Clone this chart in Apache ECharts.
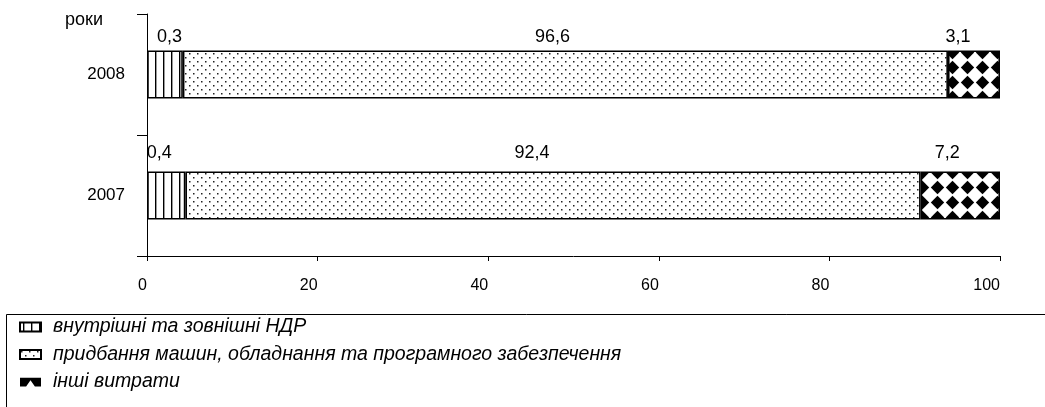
<!DOCTYPE html>
<html>
<head>
<meta charset="utf-8">
<script src="https://cdn.jsdelivr.net/npm/echarts@6/dist/echarts.min.js"></script>
<style>
html,body{margin:0;padding:0;background:#fff;}
#chart{width:1045px;height:407px;}
</style>
</head>
<body>
<div id="chart"></div>
<script>
// ---- data ----
const categories = ['2007', '2008'];
const seriesNames = [
  'внутрішні та зовнішні НДР',
  'придбання машин, обладнання та програмного забезпечення',
  'інші витрати'
];
// bar lengths as drawn in the picture (share, %)
const rdValues = [4.5, 4.2];
const machineryValues = [86.2, 89.7];
const otherValues = [9.3, 6.1];
// value labels printed above each segment
const rdLabels = ['0,4', '0,3'];
const machineryLabels = ['92,4', '96,6'];
const otherLabels = ['7,2', '3,1'];
const xTicks = [0, 20, 40, 60, 80, 100];
const yAxisName = 'роки';

// ---- patterns ----
function makeCanvas(w, h, draw) {
  const c = document.createElement('canvas');
  c.width = w; c.height = h;
  const ctx = c.getContext('2d');
  ctx.fillStyle = '#fff';
  ctx.fillRect(0, 0, w, h);
  draw(ctx);
  return c;
}
const vLines = makeCanvas(8, 4, ctx => {
  ctx.fillStyle = '#000';
  ctx.fillRect(3, 0, 1.4, 4);
});
const dots = makeCanvas(8, 8, ctx => {
  ctx.fillStyle = '#222';
  ctx.fillRect(1, 1, 1.5, 1.5);
  ctx.fillRect(5, 5, 1.5, 1.5);
});
const diamonds = makeCanvas(15, 15, ctx => {
  ctx.fillStyle = '#000';
  ctx.beginPath();
  ctx.moveTo(7.5, 0.8);
  ctx.lineTo(14.2, 7.5);
  ctx.lineTo(7.5, 14.2);
  ctx.lineTo(0.8, 7.5);
  ctx.closePath();
  ctx.fill();
});

const FONT = "'Liberation Sans', Arial, sans-serif";
const chart = echarts.init(document.getElementById('chart'), null, {renderer: 'canvas'});

// label nudges (style only): [x, y] per category index (0 = 2007, 1 = 2008)
function withLabelShift(values, shifts) {
  return values.map((v, i) => ({value: v, label: {offset: shifts[i]}}));
}
function labelCfg(texts) {
  return {
    show: true,
    position: 'top',
    distance: 7,
    color: '#000',
    fontFamily: FONT,
    fontSize: 18,
    formatter: p => texts[p.dataIndex]
  };
}

const option = {
  animation: false,
  backgroundColor: '#fff',
  textStyle: {fontFamily: FONT},
  grid: {left: 147, right: 45, top: 14, bottom: 151, containLabel: false},
  xAxis: {
    type: 'value',
    min: xTicks[0],
    max: xTicks[xTicks.length - 1],
    interval: xTicks[1] - xTicks[0],
    axisLine: {show: true, lineStyle: {color: '#000', width: 1}},
    axisTick: {show: true, length: 5, lineStyle: {color: '#000'}},
    splitLine: {show: false},
    axisLabel: {color: '#000', fontSize: 16, fontFamily: FONT, margin: 22, align: 'right'}
  },
  yAxis: {
    type: 'category',
    data: categories,
    name: yAxisName,
    nameLocation: 'end',
    nameGap: -6,
    nameTextStyle: {color: '#000', fontSize: 18, fontFamily: FONT, align: 'right', verticalAlign: 'middle', padding: [0, 44, 0, 0]},
    axisLine: {show: true, lineStyle: {color: '#000', width: 1}},
    axisTick: {show: true, length: 10, lineStyle: {color: '#000'}},
    axisLabel: {color: '#000', fontSize: 17, fontFamily: FONT, margin: 22}
  },
  legend: {
    orient: 'vertical',
    left: 14,
    top: 312,
    itemWidth: 21,
    itemHeight: 9,
    itemGap: 7.5,
    textStyle: {color: '#000', fontSize: 19.5, fontStyle: 'italic', fontFamily: FONT, padding: [0, 0, 0, 7]},
    data: [
      {name: seriesNames[0], icon: 'rect'},
      {name: seriesNames[1], icon: 'rect'},
      {name: seriesNames[2], icon: 'path://M0,0H24V10H17L12,3L7,10H0Z', itemStyle: {color: '#000', borderWidth: 0}}
    ]
  },
  graphic: [{
    type: 'rect',
    shape: {x: 6.5, y: 314.5, width: 1100, height: 200},
    style: {fill: 'none', stroke: '#000', lineWidth: 1},
    silent: true
  }],
  series: [
    {
      name: seriesNames[0], type: 'bar', stack: 'total', barWidth: 48,
      data: withLabelShift(rdValues, [[-7, -2.5], [4.5, 2.5]]),
      itemStyle: {color: {image: vLines, repeat: 'repeat'}, borderColor: '#000', borderWidth: 1.6},
      label: labelCfg(rdLabels)
    },
    {
      name: seriesNames[1], type: 'bar', stack: 'total', barWidth: 48,
      data: withLabelShift(machineryValues, [[-21, -2.5], [-13, 2.5]]),
      itemStyle: {color: {image: dots, repeat: 'repeat'}, borderColor: '#000', borderWidth: 1.6},
      label: labelCfg(machineryLabels)
    },
    {
      name: seriesNames[2], type: 'bar', stack: 'total', barWidth: 48,
      data: withLabelShift(otherValues, [[-13, -2.5], [-16, 2.5]]),
      itemStyle: {color: {image: diamonds, repeat: 'repeat'}, borderColor: '#000', borderWidth: 1.6},
      label: labelCfg(otherLabels)
    }
  ]
};
chart.setOption(option);
</script>
</body>
</html>
